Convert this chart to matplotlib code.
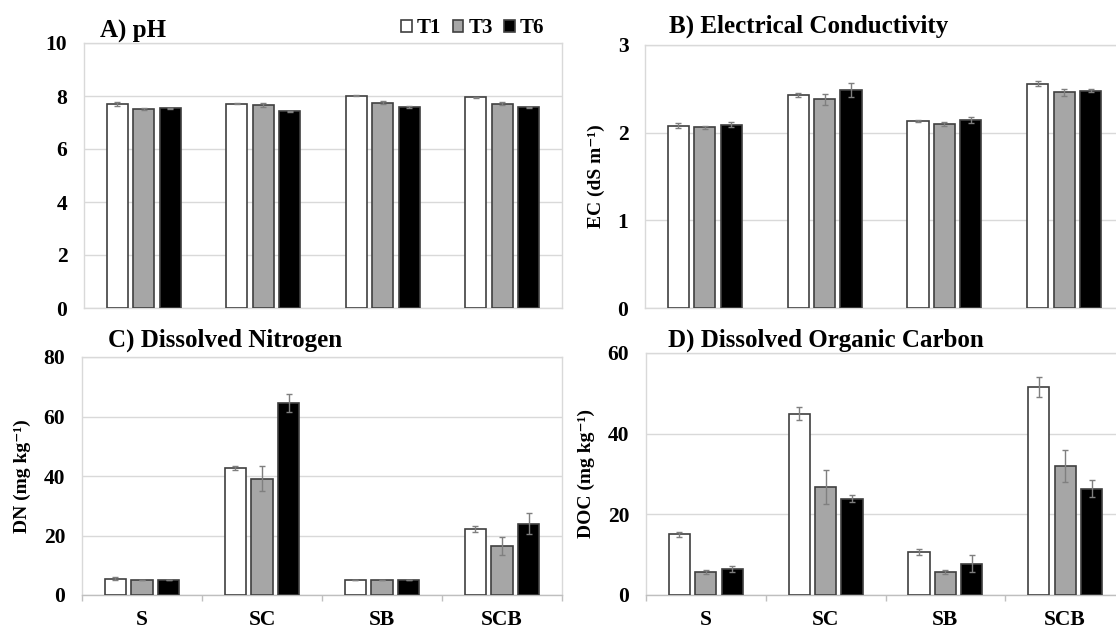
import numpy as np
import matplotlib.pyplot as plt

plt.rcParams['font.family'] = ['Liberation Serif', 'DejaVu Serif']
plt.rcParams['font.weight'] = 'bold'

sites = ['S', 'SC', 'SB', 'SCB']
times = ['T1', 'T3', 'T6']

ph = [[7.71, 7.52, 7.53], [7.71, 7.66, 7.42], [8.01, 7.75, 7.60], [7.95, 7.71, 7.57]]
ph_err = [[0.07, 0.03, 0.03], [0.03, 0.08, 0.03], [0.02, 0.06, 0.04], [0.01, 0.05, 0.02]]

ec = [[2.08, 2.06, 2.09], [2.43, 2.38, 2.49], [2.13, 2.10, 2.14], [2.56, 2.46, 2.48]]
ec_err = [[0.03, 0.02, 0.03], [0.025, 0.06, 0.08], [0.01, 0.025, 0.035], [0.027, 0.04, 0.02]]

dn = [[5.5, 5.0, 5.0], [42.6, 39.0, 64.6], [5.0, 5.0, 5.0], [22.2, 16.4, 24.0]]
dn_err = [[0.5, 0.1, 0.1], [0.7, 4.2, 3.0], [0.1, 0.1, 0.1], [0.9, 3.1, 3.4]]

doc = [[15.1, 5.7, 6.5], [44.9, 26.8, 23.9], [10.7, 5.7, 7.8], [51.5, 32.0, 26.4]]
doc_err = [[0.6, 0.6, 0.7], [1.6, 4.3, 0.9], [0.8, 0.6, 2.1], [2.5, 3.9, 2.0]]

colors = ['white', '#a6a6a6', 'black']
edge = '#404040'
grid_c = '#d9d9d9'

fig = plt.figure(figsize=(11.16, 6.3), dpi=100)
W, H = 1116, 630


def make_ax(l, t, r, b):
    return fig.add_axes([l / W, 1 - b / H, (r - l) / W, (b - t) / H])


axA = make_ax(84, 43, 562, 308)
axB = make_ax(645, 45, 1124, 308)
axC = make_ax(82, 357, 562, 595)
axD = make_ax(646, 353, 1125, 595)

panels = [
    (axA, ph, ph_err, 10, 2, 'A) pH', None, (0.033, 1.02)),
    (axB, ec, ec_err, 3, 1, 'B) Electrical Conductivity', 'EC (dS m⁻¹)', (0.05, 1.046)),
    (axC, dn, dn_err, 80, 20, 'C) Dissolved Nitrogen', 'DN (mg kg⁻¹)', (0.054, 1.042)),
    (axD, doc, doc_err, 60, 20, 'D) Dissolved Organic Carbon', 'DOC (mg kg⁻¹)', (0.046, 1.025)),
]

x = np.arange(len(sites))
width = 0.177
step = 0.221

for ax, vals, errs, ymax, ystep, title, ylabel, tpos in panels:
    vals = np.array(vals)
    errs = np.array(errs)
    for i, t in enumerate(times):
        ax.bar(x + (i - 1) * step, vals[:, i], width, color=colors[i],
               edgecolor=edge, linewidth=1.2, label=t, zorder=3,
               yerr=errs[:, i], capsize=2.5,
               error_kw=dict(ecolor='#7f7f7f', elinewidth=1, capthick=1, zorder=4))
    ax.set_xlim(-0.5, 3.5)
    ax.set_ylim(0, ymax)
    ax.set_yticks(np.arange(0, ymax + 0.01, ystep))
    ax.yaxis.grid(True, color=grid_c, linewidth=1, zorder=0)
    ax.set_axisbelow(True)
    for s in ax.spines.values():
        s.set_color(grid_c)
        s.set_linewidth(1)
    ax.tick_params(axis='y', length=0, pad=12, labelsize=15.5)
    ax.text(tpos[0], tpos[1], title, transform=ax.transAxes, fontsize=18,
            fontweight='bold', ha='left', va='baseline')
    if ylabel:
        ax.set_ylabel(ylabel, fontsize=14, fontweight='bold', labelpad=9)

for ax in (axA, axB):
    ax.set_xticks([])

for ax in (axC, axD):
    ax.spines['bottom'].set_color('#bfbfbf')
    ax.set_xticks(x)
    ax.set_xticklabels(sites, fontsize=15.5, fontweight='bold')
    ax.tick_params(axis='x', which='major', length=0, pad=11)
    ax.set_xticks(np.arange(-0.5, 3.6, 1), minor=True)
    ax.tick_params(axis='x', which='minor', length=4, color='#bfbfbf', width=1)

axA.legend(loc='center right', bbox_to_anchor=(0.985, 1.055), ncol=3, frameon=False,
           handlelength=0.5, handleheight=0.5, handletextpad=0.25,
           columnspacing=0.55, borderpad=0, prop={'weight': 'bold', 'size': 15})

fig.savefig('out.png', dpi=100)
